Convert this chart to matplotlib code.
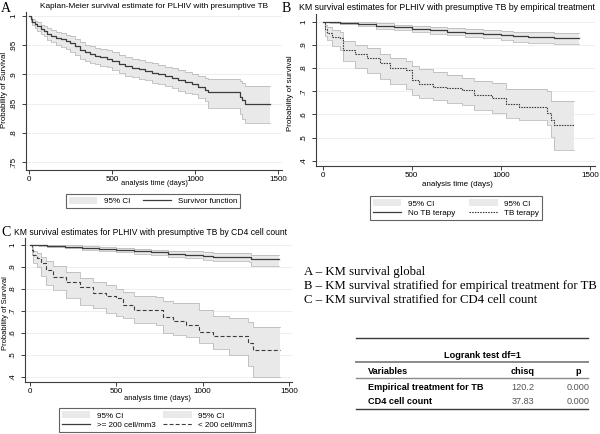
import matplotlib
matplotlib.use("Agg")
import matplotlib.pyplot as plt
from matplotlib.patches import Patch
from matplotlib.lines import Line2D

# ----------------------------
# Dados (curvas de Kaplan-Meier)
# ----------------------------
# Painel A - sobrevida global
tA = [0, 10, 20, 35, 50, 70, 90, 110, 130, 160, 190, 220, 250, 280, 310, 340, 370,
      400, 430, 470, 500, 540, 580, 620, 660, 700, 740, 780, 820, 860, 900, 940, 980,
      1020, 1060, 1080, 1270, 1285, 1300, 1450]
survA = [1.0, .995, .99, .986, .983, .978, .975, .97, .966, .963, .96, .957, .953, .948,
         .942, .938, .935, .932, .929, .927, .923, .918, .914, .911, .909, .906, .903,
         .9, .897, .894, .89, .887, .884, .879, .874, .87, .862, .856, .85, .85]
loA = [1.0, .99, .984, .979, .975, .969, .965, .959, .955, .951, .947, .943, .939, .933,
       .927, .923, .92, .917, .914, .912, .908, .902, .898, .895, .893, .89, .886, .883,
       .88, .876, .872, .869, .866, .86, .854, .843, .832, .824, .817, .817]
hiA = [1.0, .998, .995, .991, .989, .985, .983, .979, .976, .973, .971, .968, .965, .96,
       .955, .951, .948, .946, .943, .941, .938, .933, .929, .926, .924, .922, .919, .916,
       .913, .911, .907, .904, .901, .897, .894, .893, .889, .885, .88, .88]

# Painel B - tratamento empirico
tB1 = [0, 40, 100, 200, 300, 400, 500, 600, 700, 800, 900, 1000, 1070, 1150, 1300, 1440]
survB1 = [1, .998, .995, .99, .982, .975, .968, .962, .957, .952, .947, .943, .938, .935, .93, .93]
loB1 = [1, .994, .988, .98, .97, .962, .955, .948, .942, .935, .928, .92, .913, .91, .902, .902]
hiB1 = [1, 1.0, 1.0, .998, .993, .987, .981, .975, .971, .968, .964, .961, .957, .955, .95, .95]

tB2 = [0, 15, 25, 50, 100, 115, 180, 250, 320, 380, 470, 500, 540, 620, 700, 780, 850,
       950, 1030, 1100, 1260, 1280, 1300, 1410]
survB2 = [1, .97, .95, .935, .928, .878, .86, .845, .82, .8, .792, .75, .732, .72, .716,
          .705, .684, .67, .646, .632, .605, .577, .555, .555]
loB2 = [1, .94, .92, .895, .878, .83, .8, .78, .752, .73, .71, .684, .67, .663, .65, .64,
        .62, .605, .584, .575, .555, .505, .447, .447]
hiB2 = [1, .985, .975, .962, .957, .918, .9, .885, .862, .845, .83, .81, .795, .785, .77,
        .758, .745, .735, .71, .71, .70, .66, .66, .66]

# Painel C - contagem de CD4
tC1 = [0, 50, 100, 200, 300, 400, 500, 600, 700, 800, 900, 1000, 1060, 1270, 1280, 1440]
survC1 = [1, .999, .997, .993, .988, .982, .976, .971, .966, .961, .956, .952, .947, .944, .935, .935]
loC1 = [1, .996, .992, .986, .979, .972, .966, .959, .953, .947, .94, .934, .927, .922, .905, .905]
hiC1 = [1, 1.0, 1.0, .999, .996, .992, .987, .983, .979, .975, .972, .968, .965, .963, .955, .955]

tC2 = [0, 10, 20, 40, 65, 95, 135, 210, 290, 365, 440, 500, 540, 600, 730, 770, 830,
       905, 980, 1060, 1150, 1260, 1290, 1450]
survC2 = [1, .977, .954, .939, .916, .886, .856, .833, .807, .78, .768, .757, .727, .704,
          .704, .673, .655, .635, .605, .585, .585, .555, .521, .521]
loC2 = [1, .954, .92, .9, .86, .82, .795, .757, .727, .711, .69, .676, .666, .645, .635,
        .6, .59, .582, .552, .525, .499, .449, .40, .40]
hiC2 = [1, .99, .975, .962, .947, .925, .904, .878, .848, .833, .818, .8, .787, .77, .761,
        .745, .735, .734, .704, .676, .666, .65, .628, .628]

# Tabela logrank
tab_vars = ["Empirical treatment for TB", "CD4 cell count"]
tab_chisq = ["120.2", "37.83"]
tab_p = ["0.000", "0.000"]

notas = ["A \u2013 KM survival global",
         "B \u2013 KM survival stratified for empirical treatment for TB",
         "C \u2013 KM survival stratified for CD4 cell count"]

# ----------------------------
# Estilo
# ----------------------------
plt.rcParams['font.family'] = ['Liberation Sans', 'DejaVu Sans']

W, H = 600, 434
fig = plt.figure(figsize=(6, 4.34), dpi=100)
rend = fig.canvas.get_renderer()

def rect(x0, y0, x1, y1):
    return [x0 / W, 1 - y1 / H, (x1 - x0) / W, (y1 - y0) / H]

def fx(x):
    return x / W

def fy(y):
    return 1 - y / H

def texto(x, y, s, largura=None, fs=7, **kw):
    # texto em pixels; se largura, ajusta o tamanho da fonte para caber
    kw.setdefault('ha', 'center')
    kw.setdefault('va', 'center')
    t = fig.text(fx(x), fy(y), s, fontsize=fs, **kw)
    if largura:
        bb = t.get_window_extent(rend)
        w = bb.height if kw.get('rotation') == 90 else bb.width
        t.set_fontsize(fs * largura / w)
    return t

LINE = "#3c3c3c"
FILL = "#e9e9e9"
EDGE = "#b0b0b0"
FS = 5.8

def estilo(ax, xlim, ylim, yticks, ylabels):
    ax.set_xlim(*xlim)
    ax.set_ylim(*ylim)
    ax.set_xticks([0, 500, 1000, 1500])
    ax.set_yticks(yticks)
    ax.set_yticklabels(ylabels, rotation=90, va='center')
    for s in ['top', 'right']:
        ax.spines[s].set_visible(False)
    for s in ['left', 'bottom']:
        ax.spines[s].set_color(LINE)
        ax.spines[s].set_linewidth(0.8)
    ax.tick_params(direction='out', length=3, width=0.7, color=LINE, labelsize=FS)
    ax.tick_params(axis='x', pad=1)
    ax.tick_params(axis='y', pad=3)
    ax.yaxis.grid(True, color="#ececec", linewidth=0.6)
    ax.set_axisbelow(True)

def banda(ax, t, lo, hi):
    ax.fill_between(t, lo, hi, step='post', facecolor=FILL, edgecolor='none', zorder=1)
    ax.step(t, lo, where='post', color=EDGE, linewidth=0.5, zorder=2)
    ax.step(t, hi, where='post', color=EDGE, linewidth=0.5, zorder=2)

def legenda(ax, handles, labels, cx, cy, colsp=1.6):
    leg = ax.legend(handles, labels, ncol=2, loc='center',
                    bbox_to_anchor=(fx(cx), fy(cy)), bbox_transform=fig.transFigure,
                    fontsize=FS, frameon=True, fancybox=False, edgecolor=LINE,
                    handlelength=3.5, handleheight=1.0, columnspacing=colsp, borderpad=0.35,
                    handletextpad=0.8, labelspacing=0.1)
    leg.get_frame().set_linewidth(0.8)
    return leg

DOT = (0, (1.4, 1.0))
DASH = (0, (3.5, 2))

# ----------------------------
# Painel A
# ----------------------------
axA = fig.add_axes(rect(26, 12, 282, 170))
banda(axA, tA, loA, hiA)
axA.step(tA, survA, where='post', color=LINE, linewidth=0.9, zorder=3)
estilo(axA, (-18, 1524), (0.7363, 1.0069), [1, .95, .9, .85, .8, .75],
       ["1", ".95", ".9", ".85", ".8", ".75"])
texto(154, 7, "Kaplan-Meier survival estimate for PLHIV with presumptive TB", 228)
texto(154, 184, "analysis time (days)", 67)
texto(5, 90, "Probability of Survival", 75, rotation=90)
texto(1, 8, "A", fs=10, family='Liberation Serif', ha='left')
legenda(axA, [Patch(facecolor=FILL, edgecolor='none'), Line2D([], [], color=LINE, lw=0.9)],
        ["95% CI", "Survivor function"], 153, 201)

# ----------------------------
# Painel B
# ----------------------------
axB = fig.add_axes(rect(316, 14, 595, 166))
banda(axB, tB1, loB1, hiB1)
banda(axB, tB2, loB2, hiB2)
axB.step(tB1, survB1, where='post', color=LINE, linewidth=0.9, zorder=3)
axB.step(tB2, survB2, where='post', color=LINE, linewidth=0.8, linestyle=DOT, zorder=3)
estilo(axB, (-37, 1528), (0.378, 1.033), [1, .9, .8, .7, .6, .5, .4],
       ["1", ".9", ".8", ".7", ".6", ".5", ".4"])
texto(447, 7, "KM survival estimates for PLHIV with presumptive TB by empirical treatment", 298)
texto(457, 185, "analysis time (days)", 71)
texto(291, 93, "Probability of survival", 76, rotation=90)
texto(282, 8, "B", fs=10, family='Liberation Serif', ha='left')
legenda(axB, [Patch(facecolor=FILL, edgecolor='none'), Line2D([], [], color=LINE, lw=0.9),
              Patch(facecolor=FILL, edgecolor='none'),
              Line2D([], [], color=LINE, lw=0.8, linestyle=DOT)],
        ["95% CI", "No TB terapy", "95% CI", "TB terapy"], 456, 208, 1.8)

# ----------------------------
# Painel C
# ----------------------------
axC = fig.add_axes(rect(25, 238, 292, 382))
banda(axC, tC1, loC1, hiC1)
banda(axC, tC2, loC2, hiC2)
axC.step(tC1, survC1, where='post', color=LINE, linewidth=0.9, zorder=3)
axC.step(tC2, survC2, where='post', color=LINE, linewidth=0.8, linestyle=DASH, zorder=3)
estilo(axC, (-29, 1517), (0.376, 1.032), [1, .9, .8, .7, .6, .5, .4],
       ["1", ".9", ".8", ".7", ".6", ".5", ".4"])
texto(151, 233, "KM survival estimates for PLHIV with presumptive TB by CD4 cell count", 272)
texto(157, 398, "analysis time (days)", 67)
texto(6, 313, "Probability of Survival", 73, rotation=90)
texto(1, 233, "C", fs=10, family='Liberation Serif', ha='left')
legenda(axC, [Patch(facecolor=FILL, edgecolor='none'), Line2D([], [], color=LINE, lw=0.9),
              Patch(facecolor=FILL, edgecolor='none'),
              Line2D([], [], color=LINE, lw=0.8, linestyle=DASH)],
        ["95% CI", ">= 200 cell/mm3", "95% CI", "< 200 cell/mm3"], 157, 420, 1.0)

# ----------------------------
# Notas e tabela
# ----------------------------
ref = texto(304, 286, notas[1], 293, fs=8.5, family='Liberation Serif', ha='left')
fs_nota = ref.get_fontsize()
texto(304, 272, notas[0], fs=fs_nota, family='Liberation Serif', ha='left')
texto(304, 300, notas[2], fs=fs_nota, family='Liberation Serif', ha='left')

def regra(y, cor="#3a3a3a", lw=1.0):
    fig.add_artist(Line2D([fx(356), fx(588)], [fy(y), fy(y)], color=cor, linewidth=lw,
                          transform=fig.transFigure))

regra(338)
regra(362, "#8a8a8a", 1.4)
regra(378, "#8a8a8a", 1.0)
regra(409)
t0 = texto(368, 387, tab_vars[0], 115, fs=7, ha='left', weight='bold')
fs_tab = t0.get_fontsize()
texto(482, 355, "Logrank test df=1", fs=fs_tab, weight='bold')
texto(368, 371, "Variables", fs=fs_tab, ha='left', weight='bold')
texto(523, 371, "chisq", fs=fs_tab, weight='bold')
texto(578, 371, "p", fs=fs_tab, weight='bold')
for i in range(len(tab_vars)):
    y = 387 + 15 * i
    if i > 0:
        texto(368, y, tab_vars[i], fs=fs_tab, ha='left', weight='bold')
    texto(523, y, tab_chisq[i], fs=fs_tab, color="#555555")
    texto(578, y, tab_p[i], fs=fs_tab, color="#555555")

fig.savefig("out.png", dpi=100)
